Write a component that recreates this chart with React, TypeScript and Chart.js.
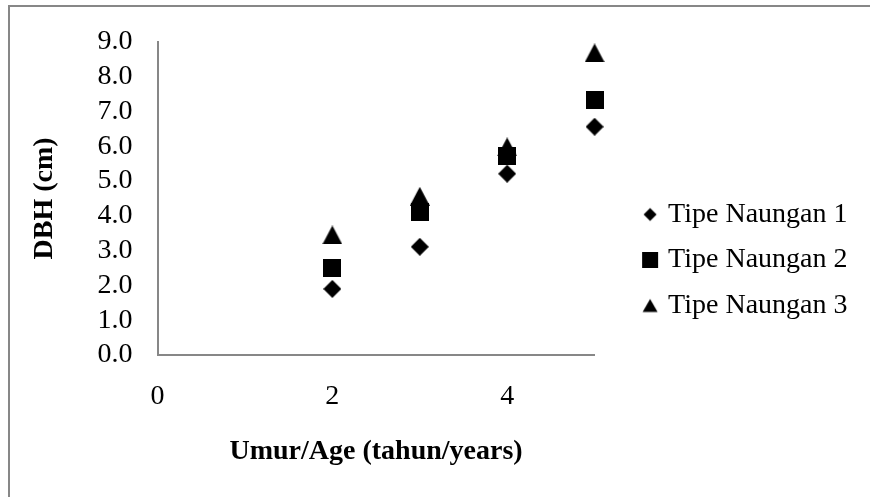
import React, { useEffect, useRef } from "react";
import { Chart, registerables } from "chart.js";

Chart.register(...registerables);

// ---- data ----
const ages = [2, 3, 4, 5];
const seriesNames = ["Tipe Naungan 1", "Tipe Naungan 2", "Tipe Naungan 3"];
const tipe1 = [1.9, 3.11, 5.21, 6.56];
const tipe2 = [2.5, 4.12, 5.71, 7.34];
const tipe3 = [3.45, 4.56, 5.98, 8.68];
const xTicks = [0, 2, 4];
const xTitle = "Umur/Age (tahun/years)";
const yTitle = "DBH (cm)";

const FONT = "'Liberation Serif', 'Times New Roman', Times, serif";

type Shape = "diamond" | "square" | "triangle";

function makeMarker(shape: Shape, boxW: number, boxH: number, cx: number, cy: number, w: number, h: number) {
  const c = document.createElement("canvas");
  c.width = boxW;
  c.height = boxH;
  const ctx = c.getContext("2d")!;
  ctx.fillStyle = "#000";
  ctx.beginPath();
  if (shape === "diamond") {
    ctx.moveTo(cx, cy - h / 2);
    ctx.lineTo(cx + w / 2, cy);
    ctx.lineTo(cx, cy + h / 2);
    ctx.lineTo(cx - w / 2, cy);
  } else if (shape === "square") {
    ctx.rect(cx - w / 2, cy - h / 2, w, h);
  } else {
    ctx.moveTo(cx, cy - h / 2);
    ctx.lineTo(cx + w / 2, cy + h / 2);
    ctx.lineTo(cx - w / 2, cy + h / 2);
  }
  ctx.closePath();
  ctx.fill();
  return c;
}

export default function App() {
  const ref = useRef<HTMLCanvasElement>(null);

  useEffect(() => {
    const canvas = ref.current;
    if (!canvas) return;

    const dataMarkers = [
      makeMarker("diamond", 18, 18, 9, 9, 18, 18),
      makeMarker("square", 18, 18, 9, 9, 18, 18),
      makeMarker("triangle", 20, 19, 10, 9.5, 20, 19),
    ];
    const LW = 42; // legend box width (controls text start)
    const IW = 56; // legend marker image width (centered on box centre)
    const MX = IW / 2 + 17; // marker centre inside image
    const legendMarkers = [
      makeMarker("diamond", IW, 20, MX, 10, 13, 13),
      makeMarker("square", IW, 20, MX, 10, 16, 16),
      makeMarker("triangle", IW, 20, MX, 10, 15, 13),
    ];
    const series = [tipe1, tipe2, tipe3];

    const chart = new Chart(canvas, {
      type: "scatter",
      data: {
        datasets: series.map((vals, i) => ({
          label: seriesNames[i],
          data: ages.map((a, j) => ({ x: a, y: vals[j] })),
          pointStyle: dataMarkers[i] as any,
          pointRadius: 9,
          pointHoverRadius: 9,
          backgroundColor: "#000",
          borderColor: "#000",
          showLine: false,
          clip: false as any,
        })),
      },
      options: {
        animation: false,
        responsive: false,
        devicePixelRatio: 1,
        layout: { padding: { top: 37, left: 0, right: 12.5, bottom: 14 } },
        scales: {
          x: {
            type: "linear",
            min: 0,
            max: 5,
            afterBuildTicks: (s: any) => {
              s.ticks = xTicks.map((v) => ({ value: v }));
            },
            afterFit: (s: any) => {
              s.height = 497 - 14 - 355;
            },
            grid: { display: false, drawTicks: false },
            border: { display: true, color: "#878787", width: 2 },
            ticks: {
              color: "#000",
              font: { family: FONT, size: 28 },
              padding: 25,
              maxRotation: 0,
              autoSkip: false,
            },
            title: {
              display: true,
              text: xTitle,
              color: "#000",
              font: { family: FONT, size: 28, weight: "bold" },
              padding: { top: 0, bottom: 14 },
            },
          },
          y: {
            min: 0,
            max: 9,
            afterFit: (s: any) => {
              s.width = 157.5;
            },
            grid: { display: false, drawTicks: false },
            border: { display: true, color: "#878787", width: 2 },
            ticks: {
              stepSize: 1,
              autoSkip: false,
              color: "#000",
              font: { family: FONT, size: 28 },
              padding: 25,
              callback: (v: any) => Number(v).toFixed(1),
            },
            title: {
              display: true,
              text: yTitle,
              color: "#000",
              font: { family: FONT, size: 28, weight: "bold" },
              padding: { top: 28, bottom: 0 },
            },
          },
        },
        plugins: {
          legend: {
            position: "right",
            maxWidth: 400,
            labels: {
              usePointStyle: true,
              pointStyleWidth: LW,
              padding: 17.5,
              color: "#000",
              font: { family: FONT, size: 28 },
              generateLabels: (c: any) => {
                const items = (Chart.defaults.plugins.legend.labels as any).generateLabels(c);
                return items.map((it: any, i: number) => ({ ...it, pointStyle: legendMarkers[i] }));
              },
            },
          },
          tooltip: { enabled: false },
        },
      } as any,
    });

    return () => chart.destroy();
  }, []);

  return (
    <div style={{ position: "fixed", left: 0, top: 0, width: 870, height: 497, background: "#fff", overflow: "hidden" }}>
      <div
        style={{
          position: "absolute",
          left: 8,
          top: 5,
          width: 900,
          height: 600,
          borderTop: "2px solid #878787",
          borderLeft: "2px solid #878787",
          boxSizing: "border-box",
        }}
      />
      <canvas
        ref={ref}
        width={870}
        height={497}
        style={{ position: "absolute", left: 0, top: 0, width: 870, height: 497 }}
      />
    </div>
  );
}
